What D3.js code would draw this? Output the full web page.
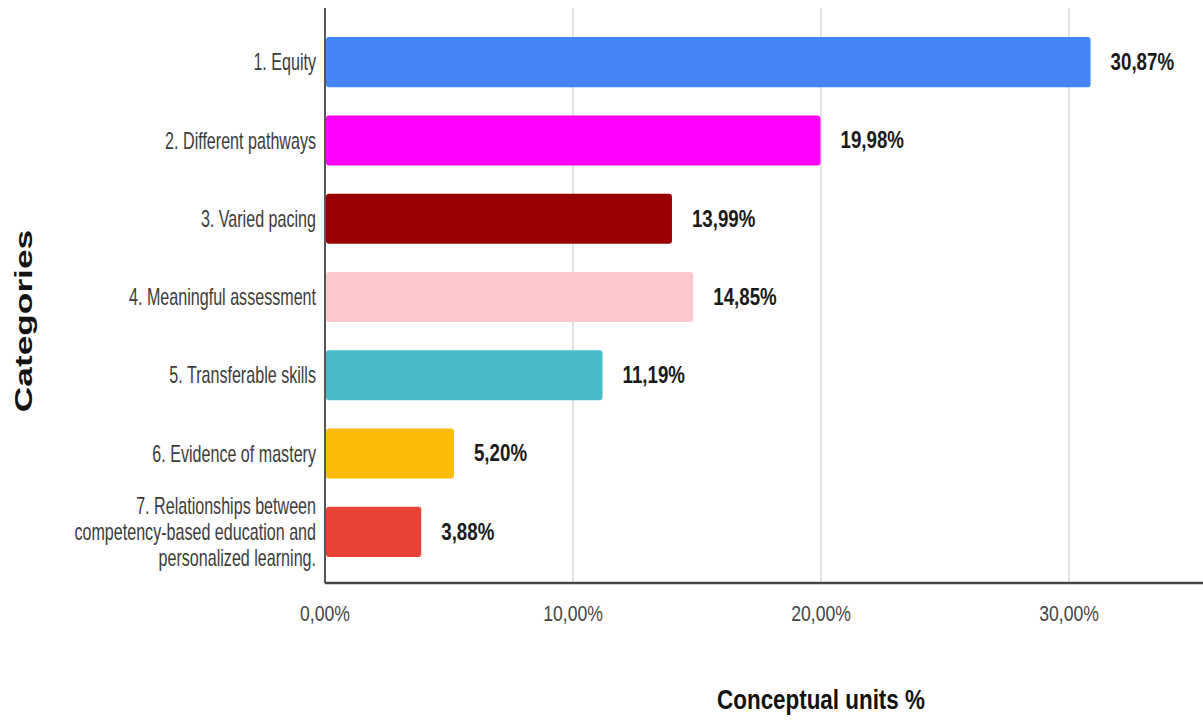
<!DOCTYPE html>
<html>
<head>
<meta charset="utf-8">
<script src="https://cdn.jsdelivr.net/npm/d3@7"></script>
<style>
  html, body { margin: 0; padding: 0; background: #fff; }
  svg { display: block; font-family: "Liberation Sans", Arial, sans-serif; }
</style>
</head>
<body>
<svg id="chart" width="1203" height="721"></svg>
<script>
// Category names (line breaks split long labels)
const categories = [
  "1. Equity",
  "2. Different pathways",
  "3. Varied pacing",
  "4. Meaningful assessment",
  "5. Transferable skills",
  "6. Evidence of mastery",
  "7. Relationships between\ncompetency-based education and\npersonalized learning."
];
// Share of conceptual units, in percent
const values = [30.87, 19.98, 13.99, 14.85, 11.19, 5.20, 3.88];
const barColors = ["#4285F4", "#FF00FF", "#990000", "#FFC7CE", "#46BDC6", "#FBBC04", "#EA4335"];
const tickValues = [0, 10, 20, 30];
const xTitle = "Conceptual units %";
const yTitle = "Categories";

const W = 1203, H = 721;
const plotLeft = 325, plotRight = W, plotTop = 8, plotBottom = 583;

const svg = d3.select("#chart");
const fmt = v => v.toFixed(2).replace(".", ",") + "%";

// x(0)=325, x(30)=1069 → extend the domain to the right edge
const pxPer = (1069 - plotLeft) / 30;
const x = d3.scaleLinear().domain([0, (plotRight - plotLeft) / pxPer]).range([plotLeft, plotRight]);
const y = d3.scaleBand().domain(categories).range([23, 571]).paddingInner(0.36).paddingOuter(0.18);

// gridlines
svg.append("g").selectAll("line").data(tickValues.filter(d => d > 0)).join("line")
  .attr("x1", d => x(d)).attr("x2", d => x(d))
  .attr("y1", plotTop).attr("y2", plotBottom)
  .attr("stroke", "#d9d9d9").attr("stroke-width", 1.5);

// bars
svg.append("g").selectAll("rect").data(categories).join("rect")
  .attr("x", x(0) + 1)
  .attr("y", d => y(d))
  .attr("width", (d, i) => x(values[i]) - x(0) - 1)
  .attr("height", y.bandwidth())
  .attr("rx", 3)
  .attr("fill", (d, i) => barColors[i]);

// axis lines
svg.append("line").attr("x1", plotLeft).attr("x2", plotLeft).attr("y1", plotTop).attr("y2", plotBottom)
  .attr("stroke", "#555").attr("stroke-width", 2);
svg.append("line").attr("x1", plotLeft).attr("x2", plotRight).attr("y1", plotBottom).attr("y2", plotBottom)
  .attr("stroke", "#444").attr("stroke-width", 2.5);

// condensed text helper: sx squeezes the glyphs horizontally
function sText(g, tx, ty, str, opts) {
  return g.append("text")
    .attr("transform", `translate(${tx},${ty}) scale(${opts.sx},1)`)
    .attr("text-anchor", opts.anchor || "start")
    .attr("dominant-baseline", "central")
    .attr("font-size", opts.size)
    .attr("font-weight", opts.weight || "normal")
    .attr("fill", opts.fill || "#333")
    .text(str);
}

// category labels
const catG = svg.append("g");
categories.forEach((c, i) => {
  const lines = c.split("\n");
  const cy = y(c) + y.bandwidth() / 2;
  const lh = 26;
  lines.forEach((ln, j) => {
    sText(catG, plotLeft - 9, cy + (j - (lines.length - 1) / 2) * lh, ln,
      { anchor: "end", size: 23, sx: 0.7, fill: "#3c3c3c" });
  });
});

// value labels
const valG = svg.append("g");
values.forEach((v, i) => {
  sText(valG, x(v) + 20, y(categories[i]) + y.bandwidth() / 2, fmt(v),
    { size: 24, sx: 0.78, weight: "bold", fill: "#1a1a1a" });
});

// x tick labels
const tickG = svg.append("g");
tickValues.forEach(t => {
  sText(tickG, x(t), 613, fmt(t), { anchor: "middle", size: 22, sx: 0.8, fill: "#444" });
});

// axis titles
sText(svg, 821, 700, xTitle, { anchor: "middle", size: 27, sx: 0.83, weight: "bold", fill: "#111" });
svg.append("text")
  .attr("transform", `translate(24,321) rotate(-90) scale(1.47,1)`)
  .attr("text-anchor", "middle")
  .attr("dominant-baseline", "central")
  .attr("font-size", 24).attr("font-weight", "bold").attr("fill", "#111")
  .text(yTitle);
</script>
</body>
</html>
